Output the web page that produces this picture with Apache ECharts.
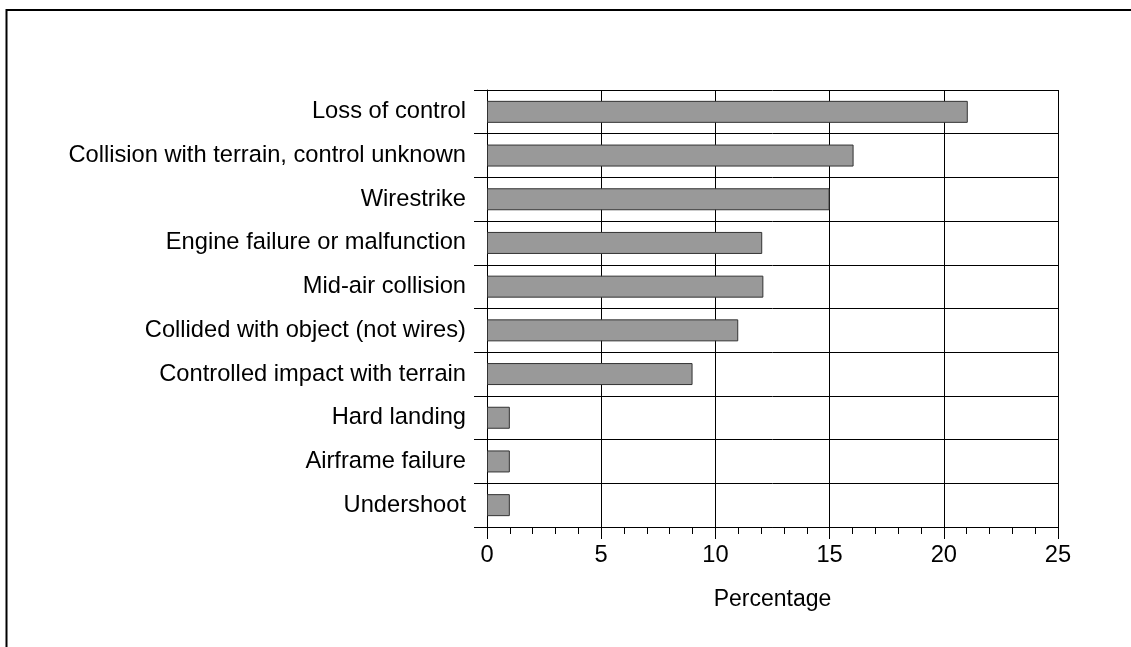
<!DOCTYPE html>
<html>
<head>
<meta charset="utf-8">
<script src="https://cdn.jsdelivr.net/npm/echarts@6/dist/echarts.min.js"></script>
<style>
  html, body { margin: 0; padding: 0; background: #fff; }
  #chart { width: 1131px; height: 647px; }
</style>
</head>
<body>
<div id="chart"></div>
<script>
const categories = [
  "Loss of control",
  "Collision with terrain, control unknown",
  "Wirestrike",
  "Engine failure or malfunction",
  "Mid-air collision",
  "Collided with object (not wires)",
  "Controlled impact with terrain",
  "Hard landing",
  "Airframe failure",
  "Undershoot"
];
const percentages = [21.05, 16.05, 15, 12.05, 12.1, 11, 9, 1, 1, 1];
const xTicks = [0, 25, 5]; // min, max, interval

const font = "Liberation Sans, Arial, Helvetica, sans-serif";
const chart = echarts.init(document.getElementById("chart"));

chart.setOption({
  backgroundColor: "#fff",
  animation: false,
  grid: { left: 487, top: 90, right: 73, bottom: 120, containLabel: false },
  xAxis: {
    type: "value",
    min: xTicks[0],
    max: xTicks[1],
    interval: xTicks[2],
    name: "Percentage",
    nameLocation: "middle",
    nameGap: 61,
    nameTextStyle: { fontFamily: font, fontSize: 23, color: "#000" },
    axisLine: { show: true, lineStyle: { color: "#000", width: 1 } },
    axisTick: { show: true, length: 12, lineStyle: { color: "#000", width: 1 } },
    minorTick: { show: true, splitNumber: 5, length: 7, lineStyle: { color: "#000", width: 1 } },
    axisLabel: { fontFamily: font, fontSize: 23.7, color: "#000", margin: 16 },
    splitLine: { show: true, lineStyle: { color: "#000", width: 1 } }
  },
  yAxis: {
    type: "category",
    inverse: true,
    data: categories,
    axisLine: { show: true, lineStyle: { color: "#000", width: 1 } },
    axisTick: { show: true, length: 13, lineStyle: { color: "#000", width: 1 } },
    axisLabel: { fontFamily: font, fontSize: 23.7, color: "#000", margin: 21 },
    splitLine: { show: true, lineStyle: { color: "#000", width: 1 } }
  },
  series: [
    {
      type: "bar",
      data: percentages,
      barWidth: 22,
      itemStyle: { color: "#999999", borderColor: "#333333", borderWidth: 1 }
    }
  ],
  graphic: [
    {
      type: "polyline",
      shape: { points: [[6.5, 647], [6.5, 10], [1131, 10]] },
      style: { stroke: "#000", lineWidth: 2, fill: null },
      silent: true
    }
  ]
});
</script>
</body>
</html>
